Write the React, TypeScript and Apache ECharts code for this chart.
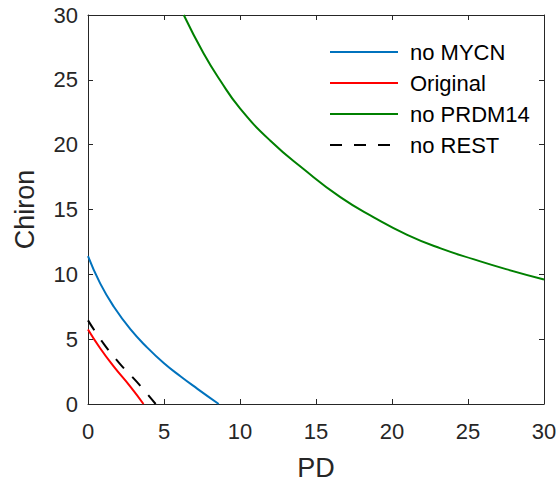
import React, { useEffect, useRef } from "react";
import * as echarts from "echarts";

// PD / Chiron curves for each knock-out condition
const pdNoMYCN = [0, 0.8, 1.7, 2.8, 3.9, 5.0, 6.1, 7.2, 8.6];
const chironNoMYCN = [11.4, 9.3, 7.5, 5.75, 4.35, 3.14, 2.12, 1.17, 0];

const pdOriginal = [0, 0.8, 1.7, 2.8, 3.65];
const chironOriginal = [5.75, 4.3, 2.88, 1.32, 0];

const pdNoPRDM14 = [6.3, 7.6, 8.7, 10, 12, 14.2, 16.6, 18.8, 21.0, 23.2, 25.4, 27.5, 30];
const chironNoPRDM14 = [30, 27.05, 24.95, 22.8, 20.3, 18.1, 15.95, 14.4, 13.05, 12.0, 11.15, 10.4, 9.6];

const pdNoREST = [0, 1.0, 2.1, 3.2, 4.45];
const chironNoREST = [6.45, 4.7, 3.1, 1.72, 0];

const seriesNames = ["no MYCN", "Original", "no PRDM14", "no REST"];
const seriesColors = ["#0072BD", "#FF0000", "#008000", "#000000"];

const xTicks = { min: 0, max: 30, interval: 5 };
const yTicks = { min: 0, max: 30, interval: 5 };

const FONT = "'Liberation Sans', Arial, Helvetica, sans-serif";
const AXIS_COLOR = "#262626";

const zip = (xs: number[], ys: number[]) => xs.map((x, i) => [x, ys[i]]);

export default function App() {
  const ref = useRef<HTMLDivElement>(null);

  useEffect(() => {
    if (!ref.current) return;
    const chart = echarts.init(ref.current, undefined, { renderer: "svg" });

    const boxAxis = (position: string, showLabel: boolean, name?: string, isY?: boolean) => ({
      type: "value",
      position,
      ...(isY ? yTicks : xTicks),
      name: name ?? "",
      nameLocation: "middle",
      nameGap: 50,
      nameTextStyle: { fontSize: 27, color: AXIS_COLOR, fontFamily: FONT },
      axisLine: { show: true, onZero: false, lineStyle: { color: AXIS_COLOR, width: 1 } },
      axisTick: { show: true, inside: true, length: 5, lineStyle: { color: AXIS_COLOR, width: 1 } },
      axisLabel: {
        show: showLabel,
        fontSize: 22,
        color: AXIS_COLOR,
        fontFamily: FONT,
        margin: isY ? 10 : 16,
      },
      splitLine: { show: false },
    });

    const datasets = [
      zip(pdNoMYCN, chironNoMYCN),
      zip(pdOriginal, chironOriginal),
      zip(pdNoPRDM14, chironNoPRDM14),
      zip(pdNoREST, chironNoREST),
    ];

    chart.setOption({
      animation: false,
      backgroundColor: "#ffffff",
      grid: { left: 88, right: 14, top: 15, bottom: 79, outerBoundsMode: "none", containLabel: false },
      xAxis: [boxAxis("bottom", true, "PD"), boxAxis("top", false)],
      yAxis: [boxAxis("left", true, "Chiron", true), boxAxis("right", false, undefined, true)],
      legend: {
        orient: "vertical",
        left: 329,
        top: 41,
        padding: 0,
        itemWidth: 68,
        itemHeight: 14,
        itemGap: 9,
        data: seriesNames,
        itemStyle: { opacity: 0 },
        textStyle: {
          fontSize: 22,
          lineHeight: 22,
          color: "#000000",
          fontFamily: FONT,
          padding: [0, 0, 0, 7],
        },
      },
      series: datasets.map((data, i) => ({
        name: seriesNames[i],
        type: "line",
        data,
        smooth: 0.5,
        symbol: "none",
        clip: true,
        color: seriesColors[i],
        lineStyle: {
          color: seriesColors[i],
          width: 2,
          type: i === 3 ? [12, 12] : "solid",
        },
      })),
    });

    return () => chart.dispose();
  }, []);

  return (
    <div
      ref={ref}
      style={{ position: "fixed", left: 0, top: 0, width: 558, height: 483 }}
    />
  );
}
